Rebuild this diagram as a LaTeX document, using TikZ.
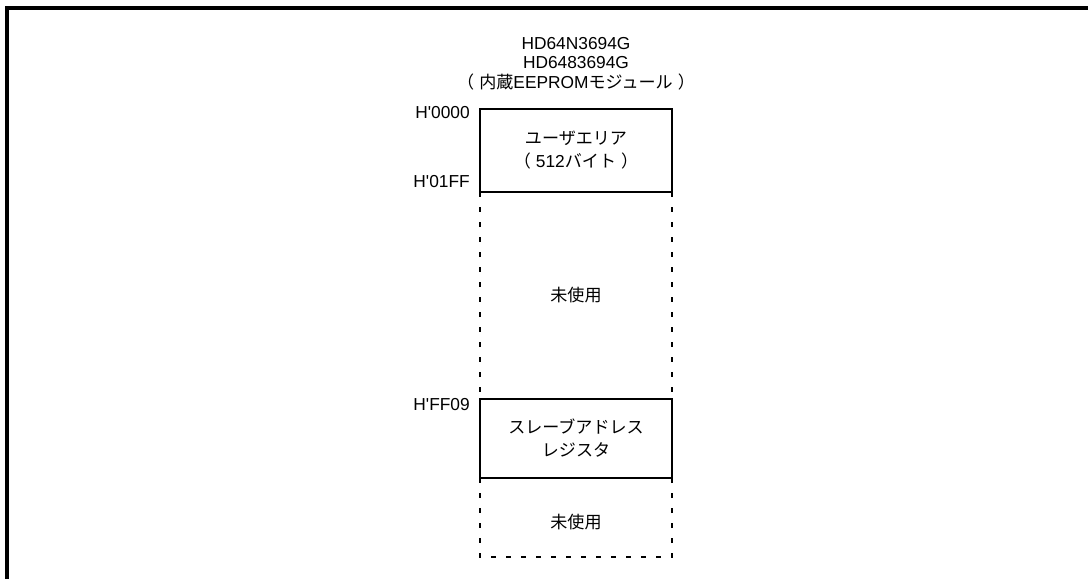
\documentclass[tikz,border=0pt]{standalone}
\usepackage{fontspec}
\setmainfont{Noto Sans CJK JP}
\newfontfamily\lat{Liberation Sans}
\usetikzlibrary{positioning}
\newcommand\pgap{\hspace{0.3em}}

\begin{document}
\begin{tikzpicture}[x=0.75pt, y=-0.75pt]
        \useasboundingbox (0,0) rectangle (1088,579);
        \tikzset{
            membox/.style={rectangle, draw, line width=1.6pt, minimum width=144pt, inner sep=0pt, outer sep=0pt},
            unused/.style={line width=1.6pt, dash pattern=on 3.75pt off 7.5pt},
            addr/.style={anchor=east, inner sep=0pt, font=\lat\fontsize{13}{15}\selectfont},
            txt/.style={align=center, inner sep=0pt, font=\fontsize{12.8}{17.3}\selectfont}
        }
        % frame
        \draw[line width=2.3pt] (1088,8) -- (7,8) -- (7,579);
        % title
        \node[txt, font=\fontsize{12.8}{14.6}\selectfont] (title) at (576,63.5)
            {{\lat\fontsize{13}{14.6}\selectfont HD64N3694G}\\{\lat\fontsize{13}{14.6}\selectfont HD6483694G}\\（\pgap 内蔵{\lat\fontsize{13}{14.6}\selectfont EEPROM}モジュール\pgap）};
        % memory map
        \node[membox, minimum height=62.25pt] (user) at (576,150.5) {};
        \node[membox, minimum height=59.25pt] (slave) at (576,438.5) {};
        \coordinate (endw) at (480,557);
        \coordinate (ende) at (672,557);
        \draw[unused] (user.south west) -- (slave.north west);
        \draw[unused] (user.south east) -- (slave.north east);
        \draw[unused] (slave.south west) -- (endw) -- (ende) -- (slave.south east);
        % texts
        \node[txt] (usertxt) at (user) {ユーザエリア\\（\pgap{\lat\fontsize{13}{17.3}\selectfont 512}バイト\pgap）};
        \node[txt] (slavetxt) at (slave) {スレーブアドレス\\レジスタ};
        \node[txt] (free1) at (576,295) {未使用};
        \node[txt] (free2) at (576,522) {未使用};
        % addresses
        \node[addr] (a0000) at (470,113) {H'0000};
        \node[addr] (a01ff) at (470,182) {H'01FF};
        \node[addr] (aff09) at (470,405) {H'FF09};
    \end{tikzpicture}
\end{document}
